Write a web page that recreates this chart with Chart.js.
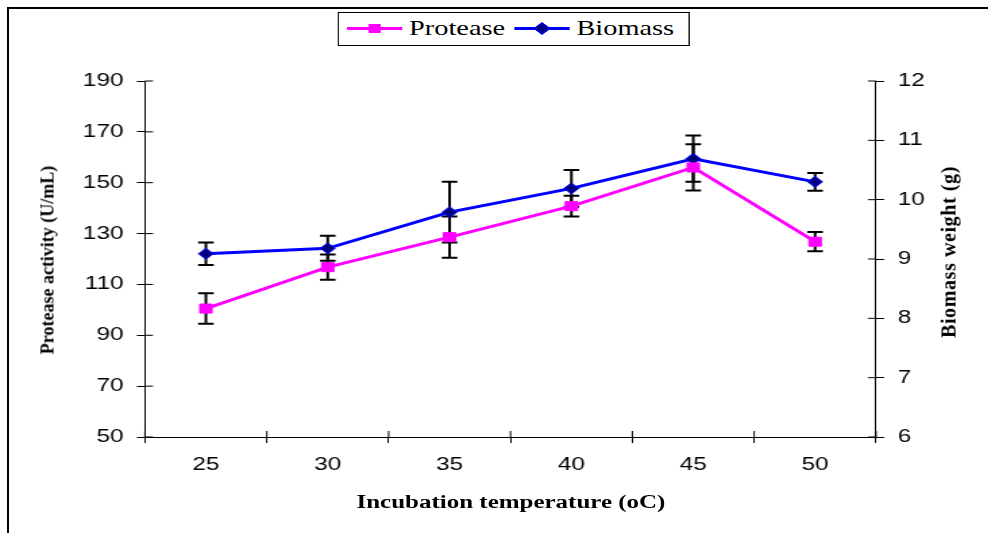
<!DOCTYPE html>
<html>
<head>
<meta charset="utf-8">
<script src="https://cdn.jsdelivr.net/npm/chart.js@4/dist/chart.umd.min.js"></script>
<style>
  html, body { margin: 0; padding: 0; background: #fff; }
  body { width: 988px; height: 533px; position: relative; overflow: hidden; }
  .frame { position: absolute; left: 7px; top: 7px; right: 0; bottom: 0;
           border-left: 2px solid #000; border-top: 2px solid #000; }
  /* the picture is stretched sideways, so the chart is drawn narrow and scaled */
  .stage { position: absolute; left: 0; top: 0; width: 732px; height: 533px;
           transform: scaleX(1.35); transform-origin: 0 0; }
  .legend { position: absolute; left: 250px; top: 12px; width: 261px; height: 34px;
            box-sizing: border-box; border: 1.5px solid #000; background: #fff;
            font: 21px "Liberation Serif", "Times New Roman", serif; color: #000; }
  .item { position: absolute; top: 0; height: 31px; display: flex; align-items: center; }
  .mark { position: relative; width: 41px; height: 3px; margin-right: 5px; }
  .mark i { position: absolute; left: 50%; top: 50%; }
  .pink { background: #ff00ff; }
  .pink i { width: 9px; height: 9px; margin: -4.5px 0 0 -4.5px; background: #ff00ff; }
  .blue { background: #0000ff; }
  .blue i { width: 7px; height: 7px; margin: -4.5px 0 0 -4.5px; background: #000080;
            border: 1px solid #0000ff; transform: rotate(45deg); }
  .xtitle { position: absolute; left: 12.5px; width: 732px; top: 492px; text-align: center;
            font: bold 18.5px "Liberation Serif", "Times New Roman", serif; }
  .vtitle { position: absolute; white-space: nowrap;
            font: bold 18px "Liberation Serif", "Times New Roman", serif;
            transform: translate(-50%, -50%) rotate(-90deg); }
</style>
</head>
<body>
<div class="frame"></div>
<div class="stage">
  <canvas id="chart" width="732" height="533"></canvas>
  <div class="legend">
    <div class="item" style="left:6px"><span class="mark pink"><i></i></span><span id="lg0"></span></div>
    <div class="item" style="left:130px"><span class="mark blue"><i></i></span><span id="lg1"></span></div>
  </div>
  <div class="xtitle">Incubation temperature (oC)</div>
</div>
<div class="vtitle" style="left:48px; top:260px">Protease activity (U/mL)</div>
<div class="vtitle" style="left:949px; top:252px; font-size:20px; letter-spacing:0.6px">Biomass weight (g)</div>

<script>
const temps = ["25", "30", "35", "40", "45", "50"];
const seriesNames = ["Protease", "Biomass"];

const protease = [100.5, 116.8, 128.6, 140.8, 156.0, 126.8];
const proteaseErr = [6.0, 5.0, 8.1, 4.1, 9.1, 3.8];

const biomass = [9.09, 9.18, 9.79, 10.19, 10.69, 10.30];
const biomassErr = [0.19, 0.21, 0.51, 0.31, 0.39, 0.15];

document.getElementById("lg0").textContent = seriesNames[0];
document.getElementById("lg1").textContent = seriesNames[1];

const errors = [proteaseErr, biomassErr];

// Error bars, drawn under the markers
const errorBars = {
  id: "errorBars",
  beforeDatasetsDraw(chart) {
    const ctx = chart.ctx;
    const x = chart.scales.x;
    ctx.save();
    ctx.strokeStyle = "#000";
    ctx.lineWidth = 2;
    chart.data.datasets.forEach((ds, d) => {
      const ys = chart.scales[ds.yAxisID];
      ds.data.forEach((v, i) => {
        const px = x.getPixelForValue(i);
        const top = ys.getPixelForValue(v + errors[d][i]);
        const bot = ys.getPixelForValue(v - errors[d][i]);
        ctx.beginPath();
        ctx.moveTo(px, top); ctx.lineTo(px, bot);
        ctx.moveTo(px - 5.8, top); ctx.lineTo(px + 5.8, top);
        ctx.moveTo(px - 5.8, bot); ctx.lineTo(px + 5.8, bot);
        ctx.stroke();
      });
    });
    ctx.restore();
  }
};

// Tick marks cross the axis lines, so add the inner half
const innerTicks = {
  id: "innerTicks",
  afterDraw(chart) {
    const ctx = chart.ctx;
    const { x, y, y1 } = chart.scales;
    ctx.save();
    ctx.strokeStyle = "#000";
    ctx.lineWidth = 1;
    ctx.beginPath();
    y.ticks.forEach((t, i) => {
      const p = y.getPixelForTick(i);
      ctx.moveTo(y.right, p); ctx.lineTo(y.right + 6, p);
    });
    y1.ticks.forEach((t, i) => {
      const p = y1.getPixelForTick(i);
      ctx.moveTo(y1.left - 6, p); ctx.lineTo(y1.left, p);
    });
    for (let i = 0; i <= temps.length; i++) {
      const p = x.getPixelForValue(i - 0.5);
      ctx.moveTo(p, x.top - 6); ctx.lineTo(p, x.top);
    }
    ctx.stroke();
    ctx.restore();
  }
};

const tickFont = { family: "'Liberation Sans', Arial, sans-serif", size: 18 };

new Chart(document.getElementById("chart"), {
  type: "line",
  data: {
    labels: temps,
    datasets: [
      {
        label: seriesNames[0],
        data: protease,
        yAxisID: "y",
        borderColor: "#ff00ff",
        backgroundColor: "#ff00ff",
        borderWidth: 3,
        pointStyle: "rect",
        pointRadius: 6.4,
        pointBorderWidth: 1,
        pointBorderColor: "#ff00ff",
        tension: 0
      },
      {
        label: seriesNames[1],
        data: biomass,
        yAxisID: "y1",
        borderColor: "#0000ff",
        backgroundColor: "#000080",
        borderWidth: 3,
        pointStyle: "rectRot",
        pointRadius: 5.5,
        pointBorderWidth: 1,
        pointBorderColor: "#0000ff",
        tension: 0
      }
    ]
  },
  options: {
    responsive: false,
    animation: false,
    events: [],
    layout: { padding: { top: 81, left: 0, right: 0, bottom: 0 } },
    plugins: {
      legend: { display: false },
      tooltip: { enabled: false }
    },
    scales: {
      x: {
        offset: true,
        grid: { offset: true, drawOnChartArea: false, color: "#000", tickLength: 6, tickWidth: 1 },
        border: { color: "#000", width: 1 },
        ticks: { color: "#000", font: tickFont, padding: 11, maxRotation: 0 },
        afterFit(s) { s.height = 96; }
      },
      y: {
        position: "left",
        min: 50,
        max: 190,
        ticks: { stepSize: 20, color: "#000", font: tickFont, padding: 10 },
        grid: { drawOnChartArea: false, color: "#000", tickLength: 6 },
        border: { color: "#000", width: 1 },
        afterFit(s) { s.width = 107.4; }
      },
      y1: {
        position: "right",
        min: 6,
        max: 12,
        ticks: { stepSize: 1, color: "#000", font: tickFont, padding: 10 },
        grid: { drawOnChartArea: false, color: "#000", tickLength: 6 },
        border: { color: "#000", width: 1 },
        afterFit(s) { s.width = 83.1; }
      }
    }
  },
  plugins: [errorBars, innerTicks]
});
</script>
</body>
</html>
